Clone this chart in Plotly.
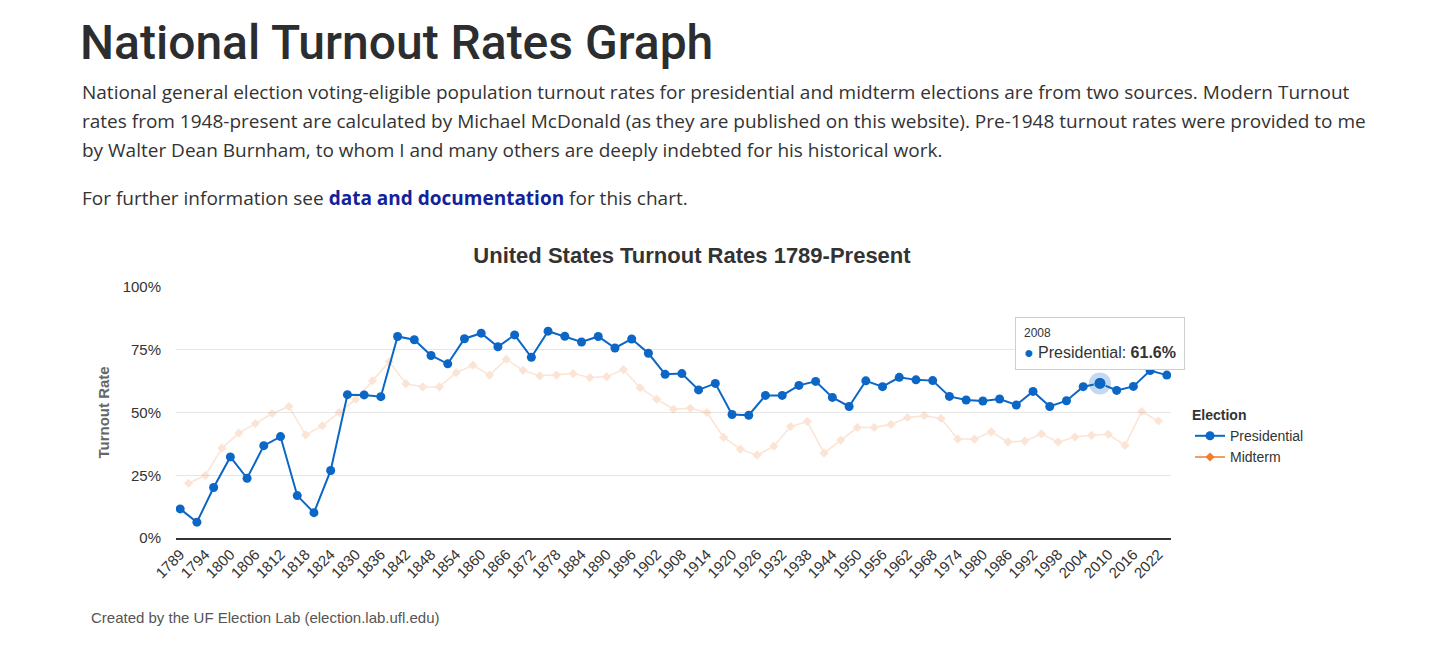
import plotly.graph_objects as go

# Turnout rates (% of voting-eligible population)
pres_years = [1789, 1792, 1796, 1800, 1804, 1808, 1812, 1816, 1820, 1824,
              1828, 1832, 1836, 1840, 1844, 1848, 1852, 1856, 1860, 1864,
              1868, 1872, 1876, 1880, 1884, 1888, 1892, 1896, 1900, 1904,
              1908, 1912, 1916, 1920, 1924, 1928, 1932, 1936, 1940, 1944,
              1948, 1952, 1956, 1960, 1964, 1968, 1972, 1976, 1980, 1984,
              1988, 1992, 1996, 2000, 2004, 2008, 2012, 2016, 2020, 2024]
pres_rates = [11.6, 6.3, 20.1, 32.3, 23.8, 36.8, 40.4, 16.9, 10.1, 26.9,
              57.1, 57.0, 56.3, 80.3, 79.0, 72.7, 69.4, 79.4, 81.6, 76.2,
              80.9, 72.0, 82.4, 80.4, 78.1, 80.3, 75.7, 79.3, 73.6, 65.2,
              65.5, 59.0, 61.6, 49.2, 48.9, 56.8, 56.8, 60.8, 62.4, 56.0,
              52.4, 62.6, 60.3, 64.0, 63.0, 62.7, 56.4, 55.0, 54.6, 55.4,
              53.0, 58.4, 52.4, 54.7, 60.3, 61.6, 58.8, 60.4, 66.7, 64.9]

mid_years = [1790, 1794, 1798, 1802, 1806, 1810, 1814, 1818, 1822, 1826,
             1830, 1834, 1838, 1842, 1846, 1850, 1854, 1858, 1862, 1866,
             1870, 1874, 1878, 1882, 1886, 1890, 1894, 1898, 1902, 1906,
             1910, 1914, 1918, 1922, 1926, 1930, 1934, 1938, 1942, 1946,
             1950, 1954, 1958, 1962, 1966, 1970, 1974, 1978, 1982, 1986,
             1990, 1994, 1998, 2002, 2006, 2010, 2014, 2018, 2022]
mid_rates = [21.8, 24.9, 35.8, 41.8, 45.6, 49.6, 52.4, 41.1, 44.7, 50.0,
             55.3, 62.6, 70.2, 61.5, 60.2, 60.2, 65.9, 68.8, 64.9, 71.2,
             66.8, 64.6, 64.9, 65.5, 63.9, 64.2, 67.1, 59.9, 55.3, 51.3,
             51.7, 50.0, 40.1, 35.4, 33.0, 36.6, 44.4, 46.4, 33.8, 39.0,
             44.0, 44.0, 45.2, 48.0, 48.7, 47.6, 39.4, 39.4, 42.3, 38.3,
             38.6, 41.5, 38.2, 40.2, 40.9, 41.3, 36.9, 50.4, 46.6]

y_ticks = [0, 25, 50, 75, 100]
y_labels = ["0%", "25%", "50%", "75%", "100%"]
hover_year = 2008

categories = [str(y) for y in sorted(pres_years + mid_years)]
tick_labels = categories[::3]

BLUE = "#0b66c6"
ORANGE = "#ee7d2f"
CHART_FONT = "Liberation Sans"
PAGE_FONT = "Open Sans"

# the page puts the figure 8px in from the top-left corner
OFF = 8
# plot area in page pixels, used to place the page text around the chart
L, R, T, B = 176, 1171, 287, 538
W, H = 1456, 647


def px(x):
    return (x - L) / (R - L)


def py(y):
    return (B - y) / (B - T)


fig = go.Figure()

fig.add_trace(go.Scatter(
    x=[str(y) for y in mid_years], y=mid_rates, name="Midterm",
    mode="lines+markers", opacity=0.2, showlegend=False,
    line=dict(color=ORANGE, width=1.5),
    marker=dict(symbol="diamond", size=7, color=ORANGE),
))
fig.add_trace(go.Scatter(
    x=[str(y) for y in pres_years], y=pres_rates, name="Presidential",
    mode="lines+markers",
    line=dict(color=BLUE, width=2),
    marker=dict(symbol="circle", size=9, color=BLUE),
))
# legend entry for the faded midterm series
fig.add_trace(go.Scatter(
    x=[None], y=[None], name="Midterm", mode="lines+markers",
    line=dict(color=ORANGE, width=1.5),
    marker=dict(symbol="diamond", size=7, color=ORANGE),
))

# hovered point with halo
hv = pres_rates[pres_years.index(hover_year)]
fig.add_trace(go.Scatter(
    x=[str(hover_year)], y=[hv], mode="markers", showlegend=False,
    marker=dict(size=22, color="rgba(11,102,198,0.25)"),
))
fig.add_trace(go.Scatter(
    x=[str(hover_year)], y=[hv], mode="markers", showlegend=False,
    marker=dict(size=12, color=BLUE, line=dict(color="rgba(255,255,255,0.6)", width=1)),
))

annotations = [
    dict(text="National Turnout Rates Graph", x=px(78), y=py(42), xanchor="left",
         yanchor="middle", font=dict(family="Roboto", size=48, color="#2b2d2f", weight=500)),
    dict(text="National general election voting-eligible population turnout rates for presidential "
              "and midterm elections are from two sources. Modern Turnout",
         x=px(80), y=py(92)),
    dict(text="rates from 1948-present are calculated by Michael McDonald (as they are published on "
              "this website). Pre-1948 turnout rates were provided to me",
         x=px(80), y=py(121)),
    dict(text="by Walter Dean Burnham, to whom I and many others are deeply indebted for his historical work.",
         x=px(80), y=py(150)),
    dict(text="For further information see <b><span style='color:#14229a'>data and documentation</span></b>"
              " for this chart.",
         x=px(80), y=py(198)),
    dict(text="<b>Turnout Rate</b>", x=px(103), y=0.5, textangle=-90, xanchor="center",
         font=dict(family=CHART_FONT, size=15, color="#666666")),
    dict(text="Created by the UF Election Lab (election.lab.ufl.edu)", x=px(89), y=py(617),
         font=dict(family=CHART_FONT, size=15, color="#555555")),
    dict(text=f"<span style='font-size:12px'>{hover_year}</span><br>"
              f"<span style='color:{BLUE}'>●</span> Presidential: <b>{hv}%</b>",
         xref="x", yref="y", x=categories.index(str(hover_year)), y=hv,
         xanchor="center", yanchor="bottom", yshift=13, align="left", showarrow=False,
         bgcolor="white", bordercolor="#cfcfcf", borderwidth=1, borderpad=8,
         font=dict(family=CHART_FONT, size=16, color="#333333")),
]
for a in annotations:
    a.setdefault("xref", "paper")
    a.setdefault("yref", "paper")
    a.setdefault("xanchor", "left")
    a.setdefault("yanchor", "middle")
    a.setdefault("showarrow", False)
    a.setdefault("font", dict(family=PAGE_FONT, size=19, color="#333333"))

fig.update_layout(
    width=W, height=H,
    margin=dict(l=L - OFF, r=W - (R - OFF), t=T - OFF, b=H - (B - OFF)),
    paper_bgcolor="white", plot_bgcolor="white",
    font=dict(family=CHART_FONT, size=14, color="#333333"),
    title=dict(text="<b>United States Turnout Rates 1789-Present</b>", x=(692 - OFF) / W,
               xanchor="center", y=1 - (255 - OFF) / H, yanchor="middle",
               font=dict(family=CHART_FONT, size=22, color="#333333")),
    xaxis=dict(type="category", categoryorder="array", categoryarray=categories,
               tickvals=tick_labels, ticktext=tick_labels, tickangle=-45,
               showgrid=False, showline=True, linecolor="#333333", linewidth=1.5,
               ticks="", tickfont=dict(size=15, color="#333333"),
               range=[-0.5, len(categories) - 0.5]),
    yaxis=dict(range=[0, 100], tickvals=y_ticks, ticktext=y_labels, showgrid=True,
               gridcolor="#e6e6e6", gridwidth=1, zeroline=False, ticks="",
               ticklabelstandoff=14, tickfont=dict(size=15, color="#333333")),
    legend=dict(title=dict(text="<b>Election</b>", font=dict(size=14, color="#333333")),
                x=px(1190), y=py(402), xanchor="left", yanchor="top",
                font=dict(size=14, color="#333333"), tracegroupgap=2),
    annotations=annotations,
    showlegend=True,
)

fig.write_html("out.html")
